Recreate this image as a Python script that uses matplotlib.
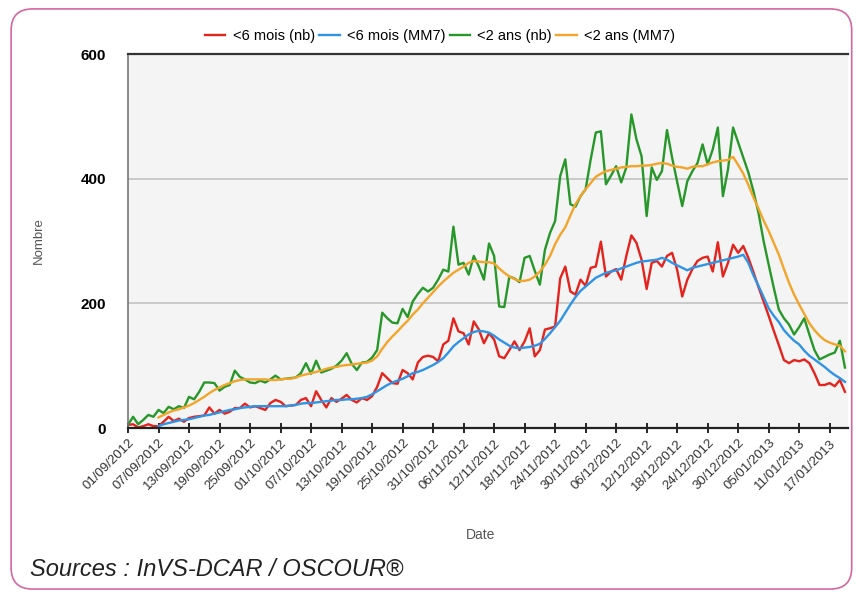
#Courbe des passages aux urgences pour bronchiolite (<6 mois / <2 ans)
import numpy as np
import pandas as pd
import matplotlib
matplotlib.use("Agg")
import matplotlib.pyplot as plt
from matplotlib.patches import FancyBboxPatch

StartDate = '2012-09-01'  # premier jour de la serie

# <6 mois, nombre journalier
Moins6Nb = [5, 6, 1, 3, 6, 3, 3, 10, 18, 11, 15, 10, 16, 18, 19, 20, 33, 23, 29, 23,
            26, 32, 32, 39, 33, 35, 32, 29, 40, 45, 42, 35, 36, 37, 45, 48, 35, 59, 45, 33,
            48, 42, 47, 53, 45, 41, 48, 45, 51, 66, 88, 80, 72, 71, 93, 88, 78, 105, 114, 116,
            114, 107, 134, 140, 176, 155, 152, 134, 171, 158, 136, 152, 142, 115, 112, 125, 139, 125, 139, 160,
            115, 125, 158, 160, 163, 240, 259, 219, 214, 238, 228, 257, 259, 299, 243, 251, 255, 238, 276, 309,
            297, 270, 223, 265, 268, 259, 276, 281, 254, 211, 238, 255, 268, 273, 275, 251, 298, 243, 265, 294,
            281, 292, 273, 250, 226, 203, 180, 156, 133, 109, 104, 109, 107, 110, 104, 88, 69, 69, 72, 67,
            77, 58]
# <6 mois, moyenne mobile 7 jours (debut au 7e jour)
Moins6MM7 = [None] * 6 + [3, 6, 8, 10, 12, 13, 14, 16, 18, 20, 21, 23, 25, 27,
            29, 30, 32, 33, 34, 35, 35, 35, 35, 35, 35, 35, 36, 37, 39, 40, 40, 41, 42, 43,
            44, 45, 45, 46, 46, 47, 48, 50, 54, 59, 64, 69, 73, 76, 79, 83, 88, 90, 93, 97,
            101, 106, 112, 121, 131, 138, 144, 150, 154, 156, 155, 153, 148, 142, 137, 132, 129, 128, 129, 130,
            132, 135, 143, 152, 162, 172, 185, 198, 210, 220, 227, 234, 241, 245, 249, 251, 253, 256, 259, 262,
            265, 267, 268, 269, 270, 273, 270, 265, 261, 257, 253, 257, 259, 261, 263, 265, 267, 269, 271, 273,
            275, 278, 265, 245, 228, 210, 192, 180, 170, 157, 148, 140, 134, 124, 116, 110, 104, 98, 91, 85,
            80, 74]
# <2 ans, nombre journalier
Moins2Nb = [5, 18, 6, 13, 21, 18, 29, 24, 34, 30, 35, 32, 50, 46, 58, 73, 73, 72, 60, 66,
            69, 92, 82, 78, 73, 72, 76, 73, 78, 84, 78, 79, 80, 81, 88, 104, 87, 108, 89, 92,
            95, 100, 108, 120, 103, 93, 105, 106, 113, 125, 185, 176, 169, 168, 191, 178, 203, 215, 225, 219,
            225, 238, 254, 251, 323, 262, 265, 246, 276, 259, 238, 296, 276, 195, 194, 243, 240, 234, 273, 276,
            252, 230, 286, 313, 332, 404, 431, 359, 355, 372, 383, 431, 474, 476, 391, 405, 420, 394, 418, 503,
            463, 436, 340, 418, 398, 412, 478, 434, 395, 356, 396, 412, 425, 455, 423, 447, 482, 372, 415, 482,
            458, 434, 410, 380, 345, 300, 262, 225, 190, 176, 166, 150, 162, 176, 150, 125, 110, 114, 118, 121,
            140, 97]
# <2 ans, moyenne mobile 7 jours
Moins2MM7 = [None] * 6 + [17, 21, 25, 28, 30, 33, 36, 40, 45, 50, 56, 61, 65, 69,
            72, 75, 77, 78, 78, 78, 78, 78, 77, 77, 78, 79, 79, 81, 84, 86, 88, 90, 92, 95,
            97, 98, 100, 101, 102, 103, 104, 105, 108, 115, 127, 138, 147, 155, 164, 172, 182, 190, 200, 209,
            218, 227, 235, 242, 249, 254, 259, 265, 268, 267, 266, 266, 264, 256, 249, 243, 239, 236, 236, 238,
            243, 251, 262, 276, 295, 310, 322, 341, 359, 372, 383, 393, 403, 408, 412, 414, 416, 418, 419, 420,
            420, 421, 421, 422, 424, 425, 424, 421, 419, 418, 416, 419, 420, 420, 423, 426, 428, 429, 430, 435,
            422, 408, 390, 370, 352, 333, 316, 297, 278, 255, 233, 214, 198, 183, 168, 157, 148, 141, 137, 134,
            132, 123]

Labels = ['<6 mois (nb)', '<6 mois (MM7)', '<2 ans (nb)', '<2 ans (MM7)']
Colors = ['#e3231c', '#2f93e6', '#27972a', '#f2a52a']


def DrawChart():
    plt.rcParams['font.family'] = ['Liberation Sans', 'DejaVu Sans']
    n = len(Moins6Nb)
    dates = pd.date_range(StartDate, periods=n, freq='D')
    series = [Moins6Nb, Moins6MM7, Moins2Nb, Moins2MM7]
    # les MM7 ont des None au debut
    series = [np.array([np.nan if v is None else v for v in s], dtype=float) for s in series]

    fig = plt.figure(figsize=(8.56, 5.95), dpi=100)
    fig.patch.set_facecolor('white')
    # cadre rose arrondi
    cadre = FancyBboxPatch((0.013, 0.01), 0.982, 0.975, boxstyle='round,pad=0,rounding_size=0.025',
                           transform=fig.transFigure, facecolor='none', edgecolor='#d4679f',
                           linewidth=1.2, mutation_aspect=856 / 595)
    fig.patches.append(cadre)

    ax = fig.add_axes([128 / 856, 1 - 428 / 595, 720 / 856, 374 / 595])
    ax.set_facecolor('#f4f4f4')

    for s, lab, col in zip(series, Labels, Colors):
        ax.plot(dates, s, color=col, lw=1.7, label=lab, solid_joinstyle='round')

    ax.set_ylim(0, 600)
    ax.set_yticks([0, 200, 400, 600])
    ax.set_xlim(dates[0], dates[0] + pd.Timedelta(days=141.6))
    ticks = dates[::6]
    ax.set_xticks(ticks)
    ax.set_xticklabels([d.strftime('%d/%m/%Y') for d in ticks], rotation=45, ha='right',
                       rotation_mode='anchor', fontsize=9.5, color='#333333')
    for lab in ax.get_yticklabels():
        lab.set_fontweight('bold')
        lab.set_fontsize(11)
    ax.tick_params(axis='x', direction='inout', length=7, width=1.2, pad=3)
    ax.tick_params(axis='y', length=0, pad=16)

    ax.grid(axis='y', color='#c6c6c6', lw=1.3)
    ax.set_axisbelow(True)
    ax.spines['right'].set_visible(False)
    ax.spines['top'].set_color('#333333')
    ax.spines['top'].set_linewidth(1.6)
    ax.spines['bottom'].set_color('#222222')
    ax.spines['bottom'].set_linewidth(1.6)
    ax.spines['left'].set_color('#777777')
    ax.spines['left'].set_linewidth(1.2)

    ax.set_ylabel('Nombre', fontsize=9.5, color='#555555')
    ax.yaxis.set_label_coords((45 - 128) / 720, 0.5)
    ax.set_xlabel('Date', fontsize=10, color='#555555')
    ax.xaxis.set_label_coords((481 - 128) / 720, (428 - 528) / 374)

    fig.legend(loc='center', bbox_to_anchor=(0.514, 0.94), ncol=4, frameon=False, fontsize=10.5,
               handlelength=1.4, handletextpad=0.5, columnspacing=0.3)

    fig.text(30 / 856, 1 - 570 / 595, 'Sources : InVS-DCAR / OSCOUR®', fontsize=17,
             style='italic', va='center', ha='left', color='#222222')

    plt.savefig('out.png', dpi=100)


if __name__ == "__main__":
    DrawChart()
